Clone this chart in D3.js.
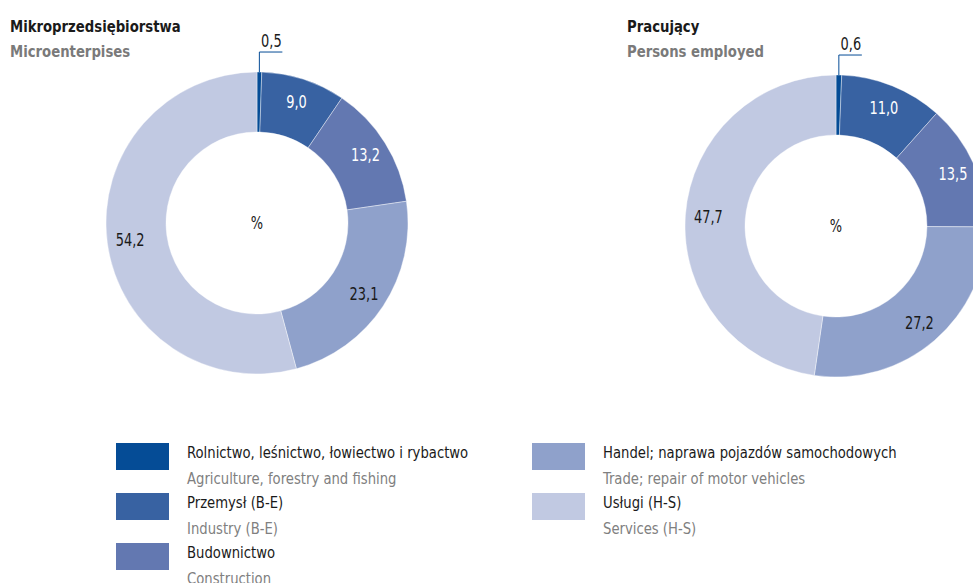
<!DOCTYPE html>
<meta charset="utf-8">
<title>Mikroprzedsiębiorstwa</title>
<script src="https://cdn.jsdelivr.net/npm/d3@7"></script>
<style>
  body { margin: 0; padding: 0; background: #fff; }
  text { font-family: 'DejaVu Sans Condensed', 'DejaVu Sans', sans-serif; }
  .title { font-weight: 700; font-size: 16px; fill: #1a1a1a; }
  .subtitle { font-weight: 700; font-size: 16px; fill: #7a7a7a; }
  .val { font-size: 18px; }
  .leg-pl { font-size: 16.5px; fill: #1a1a1a; }
  .leg-en { font-size: 16.5px; fill: #808080; }
</style>
<body>
<div id="chart"></div>
<script>

// sectors (same order in both charts)
var sectorsPl = ['Rolnictwo, leśnictwo, łowiectwo i rybactwo', 'Przemysł (B-E)', 'Budownictwo',
                 'Handel; naprawa pojazdów  samochodowych', 'Usługi (H-S)'];
var sectorsEn = ['Agriculture, forestry and fishing', 'Industry (B-E)', 'Construction',
                 'Trade; repair of motor vehicles', 'Services (H-S)'];
var colors = ['#054c96', '#3862a2', '#6378b1', '#8fa1cb', '#c1c9e2'];
var labelColors = ['#1a1a1a', '#fff', '#fff', '#1a1a1a', '#1a1a1a'];

var microValues = [0.5, 9.0, 13.2, 23.1, 54.2];
var employedValues = [0.6, 11.0, 13.5, 27.2, 47.7];

var W = 973, H = 583;
var svg = d3.select("#chart").append("svg").attr("width", W).attr("height", H);

var fmt = function(v) { return d3.format(".1f")(v).replace(".", ","); };

// the original uses a condensed face, squeeze the installed one a bit
function narrowText(parent, x, y, sx, cls, str) {
  return parent.append("text").attr("class", cls)
    .attr("transform", "translate(" + x + "," + y + ") scale(" + sx + ",1)")
    .text(str);
}

var outerR = 151, innerR = 91;
var pie = d3.pie().sort(null).value(function(d) { return d; });
var arc = d3.arc().innerRadius(innerR).outerRadius(outerR);
var labelArc = d3.arc().innerRadius(128).outerRadius(128);

function donut(values, cx, cy, title, subtitle, tx) {
  narrowText(svg, tx, 32, 0.92, "title", title);
  narrowText(svg, tx, 57, 0.92, "subtitle", subtitle);

  var g = svg.append("g").attr("transform", "translate(" + cx + "," + cy + ")");
  var arcs = pie(values);

  g.selectAll("path").data(arcs).enter().append("path")
    .attr("d", arc)
    .attr("fill", function(d, i) { return colors[i]; })
    .attr("stroke", "#fff")
    .attr("stroke-width", 0.4);

  // labels inside slices (skip the tiny first one)
  arcs.slice(1).forEach(function(d, i) {
    var c = labelArc.centroid(d);
    narrowText(g, c[0], c[1], 0.8, "val", fmt(d.data))
      .attr("text-anchor", "middle")
      .attr("dy", "0.35em")
      .attr("fill", labelColors[i + 1]);
  });

  // leader for the tiny slice
  var a0 = arcs[0];
  var mid = (a0.startAngle + a0.endAngle) / 2;
  var x0 = Math.sin(mid) * outerR, y0 = -Math.cos(mid) * outerR;
  g.append("path")
    .attr("d", "M" + x0 + "," + y0 + "V" + (y0 - 20) + "H" + (x0 + 23))
    .attr("fill", "none").attr("stroke", colors[0]).attr("stroke-width", 1);
  narrowText(g, x0 + 12, y0 - 25, 0.8, "val", fmt(a0.data))
    .attr("text-anchor", "middle")
    .attr("fill", "#1a1a1a");

  narrowText(g, 0, 0, 0.8, "val", "%")
    .attr("text-anchor", "middle").attr("dy", "0.35em")
    .attr("fill", "#1a1a1a");
}

donut(microValues, 257, 223, "Mikroprzedsiębiorstwa", "Microenterpises", 10);
donut(employedValues, 836, 226, "Pracujący", "Persons employed", 627);

// legend
var legX = [116, 116, 116, 532, 532];
var legRow = [0, 1, 2, 0, 1];
sectorsPl.forEach(function(name, i) {
  var g = svg.append("g")
    .attr("transform", "translate(" + legX[i] + "," + (443 + legRow[i] * 50) + ")");
  g.append("rect").attr("width", 53).attr("height", 27).attr("fill", colors[i]);
  narrowText(g, 71, 15, 0.89, "leg-pl", name);
  narrowText(g, 71, 41, 0.89, "leg-en", sectorsEn[i]);
});

</script>
</body>
